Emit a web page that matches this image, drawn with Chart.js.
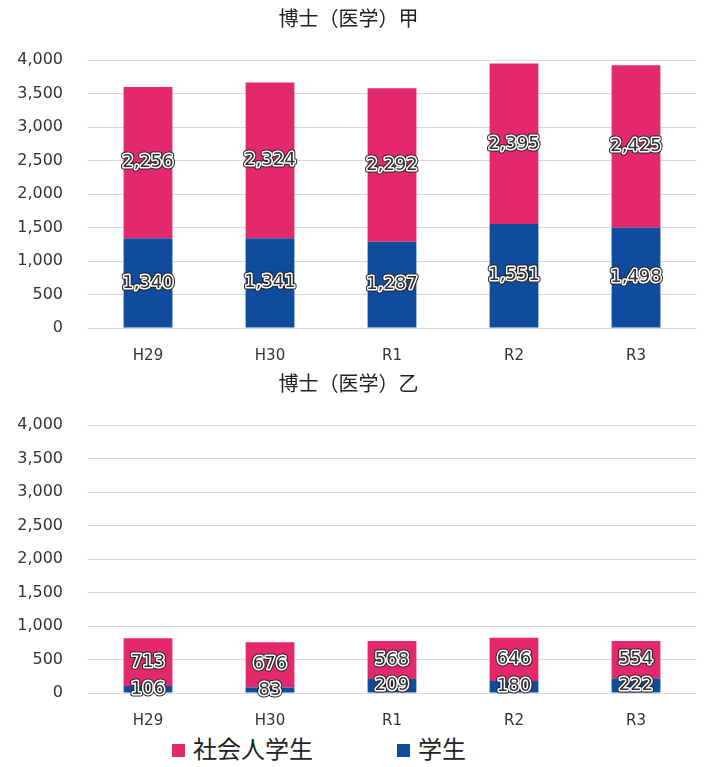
<!DOCTYPE html>
<html>
<head>
<meta charset="utf-8">
<script src="https://cdn.jsdelivr.net/npm/chart.js@4"></script>
<style>
  body { margin: 0; background: #fff; }
  #wrap { position: relative; width: 708px; height: 767px; }
  .box { position: absolute; left: 0; width: 708px; height: 365px; }
  #legend { position: absolute; top: 730px; left: 0; width: 708px; height: 37px;
    font-family: "Noto Sans CJK JP", sans-serif; font-size: 24px; color: #222; }
  .item { position: absolute; top: 3px; line-height: 30px; }
  .sw { display: inline-block; width: 13px; height: 13px; margin-right: 8px; vertical-align: 1px; }
</style>
</head>
<body>
<div id="wrap">
  <div class="box" style="top:0"><canvas id="c1"></canvas></div>
  <div class="box" style="top:365px"><canvas id="c2"></canvas></div>
  <div id="legend">
    <span class="item" style="left:172px"><span class="sw" style="background:#e3296c"></span>社会人学生</span>
    <span class="item" style="left:397px"><span class="sw" style="background:#104c9e"></span>学生</span>
  </div>
</div>
<script>
const years = ['H29', 'H30', 'R1', 'R2', 'R3'];
const kouShakai = [2256, 2324, 2292, 2395, 2425];
const kouGakusei = [1340, 1341, 1287, 1551, 1498];
const otsuShakai = [713, 676, 568, 646, 554];
const otsuGakusei = [106, 83, 209, 180, 222];
const titles = ['博士（医学）甲', '博士（医学）乙'];

const PINK = '#e3296c';
const BLUE = '#104c9e';

// labels in the middle of each segment, outlined text
const segLabels = {
  id: 'segLabels',
  afterDatasetsDraw(chart) {
    const ctx = chart.ctx;
    ctx.save();
    ctx.font = '18px "DejaVu Sans", Verdana, sans-serif';
    ctx.textAlign = 'center';
    ctx.textBaseline = 'middle';
    ctx.lineJoin = 'round';
    chart.data.datasets.forEach((ds, i) => {
      chart.getDatasetMeta(i).data.forEach((bar, j) => {
        const p = bar.getProps(['x', 'y', 'base'], true);
        const y = (p.y + p.base) / 2;
        const txt = ds.data[j].toLocaleString('en-US');
        ctx.strokeStyle = '#222';
        ctx.lineWidth = 5;
        ctx.strokeText(txt, p.x, y);
        ctx.strokeStyle = '#fff';
        ctx.lineWidth = 3;
        ctx.strokeText(txt, p.x, y);
        ctx.fillStyle = '#333';
        ctx.fillText(txt, p.x, y);
      });
    });
    ctx.restore();
  }
};

function makeChart(id, title, gakusei, shakai) {
  new Chart(document.getElementById(id), {
    type: 'bar',
    data: {
      labels: years,
      datasets: [
        { label: '学生', data: gakusei, backgroundColor: BLUE },
        { label: '社会人学生', data: shakai, backgroundColor: PINK }
      ]
    },
    options: {
      responsive: true,
      maintainAspectRatio: false,
      animation: false,
      layout: { padding: { left: 0, right: 11, top: 0, bottom: 0 } },
      datasets: { bar: { barPercentage: 0.5, categoryPercentage: 0.8 } },
      plugins: {
        legend: { display: false },
        tooltip: { enabled: false },
        title: {
          display: true,
          text: title,
          color: '#222',
          font: { family: '"Noto Sans CJK JP", sans-serif', size: 20, weight: 'normal' },
          padding: { top: 6, bottom: 30 }
        }
      },
      scales: {
        x: {
          stacked: true,
          grid: { display: false },
          border: { display: false },
          ticks: { color: '#333', padding: 11, font: { family: '"DejaVu Sans", Verdana, sans-serif', size: 15 } },
          afterFit(s) { s.height = 37; }
        },
        y: {
          stacked: true,
          min: 0,
          max: 4000,
          border: { display: false },
          grid: { color: '#d9d9d9', drawTicks: false },
          ticks: {
            stepSize: 500,
            padding: 24,
            color: '#333',
            font: { family: '"DejaVu Sans", Verdana, sans-serif', size: 16 },
            callback: v => v.toLocaleString('en-US')
          },
          afterFit(s) { s.width = 87; }
        }
      }
    },
    plugins: [segLabels]
  });
}

makeChart('c1', titles[0], kouGakusei, kouShakai);
makeChart('c2', titles[1], otsuGakusei, otsuShakai);
</script>
</body>
</html>
